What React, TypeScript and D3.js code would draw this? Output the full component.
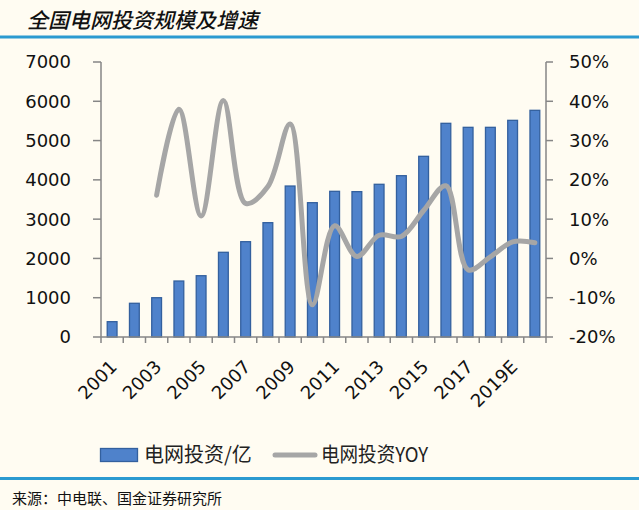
import React from "react";
import * as d3 from "d3";

const years = ["2001","2002","2003","2004","2005","2006","2007","2008","2009","2010","2011","2012","2013","2014","2015","2016","2017","2018","2019E","2020E"];
const investment = [390, 858, 1000, 1425, 1560, 2156, 2426, 2910, 3843, 3419, 3708, 3700, 3887, 4106, 4599, 5439, 5337, 5337, 5515, 5770];
const yoy: (number | null)[] = [null, null, 16.1, 38.0, 10.8, 40.2, 14.0, 18.3, 34.2, -11.8, 8.3, 0.5, 5.9, 5.6, 12.2, 18.5, -2.9, 0.4, 4.2, 4.0];
const leftTicks = [0, 1000, 2000, 3000, 4000, 5000, 6000, 7000];
const rightTicks = [-20, -10, 0, 10, 20, 30, 40, 50];
const title = "全国电网投资规模及增速";
const legendBar = "电网投资/亿";
const legendLine = "电网投资YOY";
const source = "来源：中电联、国金证券研究所";

const W = 639, H = 510;
const L = 101, R = 546, T = 62, B = 337;

export default function App() {
  const x = d3.scaleBand<string>().domain(years).range([L, R]).padding(0);
  const yL = d3.scaleLinear().domain([0, 7000]).range([B, T]);
  const yR = d3.scaleLinear().domain([-20, 50]).range([B, T]);
  const bw = x.step() * 0.44;
  const cx = (d: string) => (x(d) as number) + x.bandwidth() / 2;

  const line = d3
    .line<number | null>()
    .defined((d) => d !== null)
    .x((_, i) => cx(years[i]))
    .y((d) => yR(d as number))
    .curve(d3.curveCatmullRom.alpha(0.5));

  const axisColor = "#868686";
  const font = "'DejaVu Sans', Verdana, sans-serif";
  const cjk = "'Noto Sans CJK SC', sans-serif";

  const boundaries = d3.range(years.length + 1).map((i) => L + i * x.step());

  return (
    <svg width={W} height={H} style={{ position: "absolute", left: 0, top: 0 }}>
      <rect x={0} y={0} width={W} height={H} fill="#FFFCF2" />
      <text x={27} y={28} fontFamily={cjk} fontSize={21} fontStyle="italic" fontWeight={500} fill="#111">{title}</text>
      <rect x={0} y={35.5} width={W} height={3} fill="#2B9AD0" />

      {investment.map((v, i) => (
        <rect
          key={years[i]}
          x={cx(years[i]) - bw / 2}
          y={yL(v)}
          width={bw}
          height={B - yL(v)}
          fill="#4F82CB"
          stroke="#33609E"
          strokeWidth={1.3}
        />
      ))}

      <path d={line(yoy) || ""} fill="none" stroke="#A6A6A6" strokeWidth={5} strokeLinecap="round" strokeLinejoin="round" />

      {/* left axis */}
      <line x1={L} x2={L} y1={T} y2={B} stroke={axisColor} strokeWidth={1.5} />
      {leftTicks.map((t) => (
        <g key={t}>
          <line x1={L - 8} x2={L} y1={yL(t)} y2={yL(t)} stroke={axisColor} strokeWidth={1.5} />
          <text x={71} y={yL(t)} dy="0.36em" textAnchor="end" fontFamily={font} fontSize={18} fill="#111">{t}</text>
        </g>
      ))}

      {/* right axis */}
      <line x1={R} x2={R} y1={T} y2={B} stroke={axisColor} strokeWidth={1.5} />
      {rightTicks.map((t) => (
        <g key={t}>
          <line x1={R} x2={R + 7} y1={yR(t)} y2={yR(t)} stroke={axisColor} strokeWidth={1.5} />
          <text x={569} y={yR(t)} dy="0.36em" textAnchor="start" fontFamily={font} fontSize={18} fill="#111">{t + "%"}</text>
        </g>
      ))}

      {/* bottom axis */}
      <line x1={L} x2={R} y1={B} y2={B} stroke={axisColor} strokeWidth={1.5} />
      {boundaries.map((bx, i) => (
        <line key={i} x1={bx} x2={bx} y1={B} y2={B + 6} stroke={axisColor} strokeWidth={1.5} />
      ))}
      {years.map((yr, i) =>
        i % 2 === 0 ? (
          <text
            key={yr}
            transform={`translate(${cx(yr) + 6},${368}) rotate(-45)`}
            textAnchor="end"
            fontFamily={font}
            fontSize={18}
            fill="#111"
          >
            {yr}
          </text>
        ) : null
      )}

      {/* legend */}
      <rect x={100.5} y={448.5} width={37} height={13} fill="#4F82CB" stroke="#33609E" strokeWidth={1.3} />
      <text x={144} y={462} fontFamily={cjk} fontSize={20} fill="#222">{legendBar}</text>
      <line x1={275} x2={315} y1={455} y2={455} stroke="#A6A6A6" strokeWidth={5} strokeLinecap="round" />
      <text x={321} y={462} fontFamily={cjk} fontSize={20} fill="#222" textLength={107} lengthAdjust="spacingAndGlyphs">{legendLine}</text>

      <rect x={0} y={477} width={W} height={3} fill="#2B9AD0" />
      <text x={12} y={504} fontFamily={cjk} fontSize={15} fill="#111">{source}</text>
    </svg>
  );
}
